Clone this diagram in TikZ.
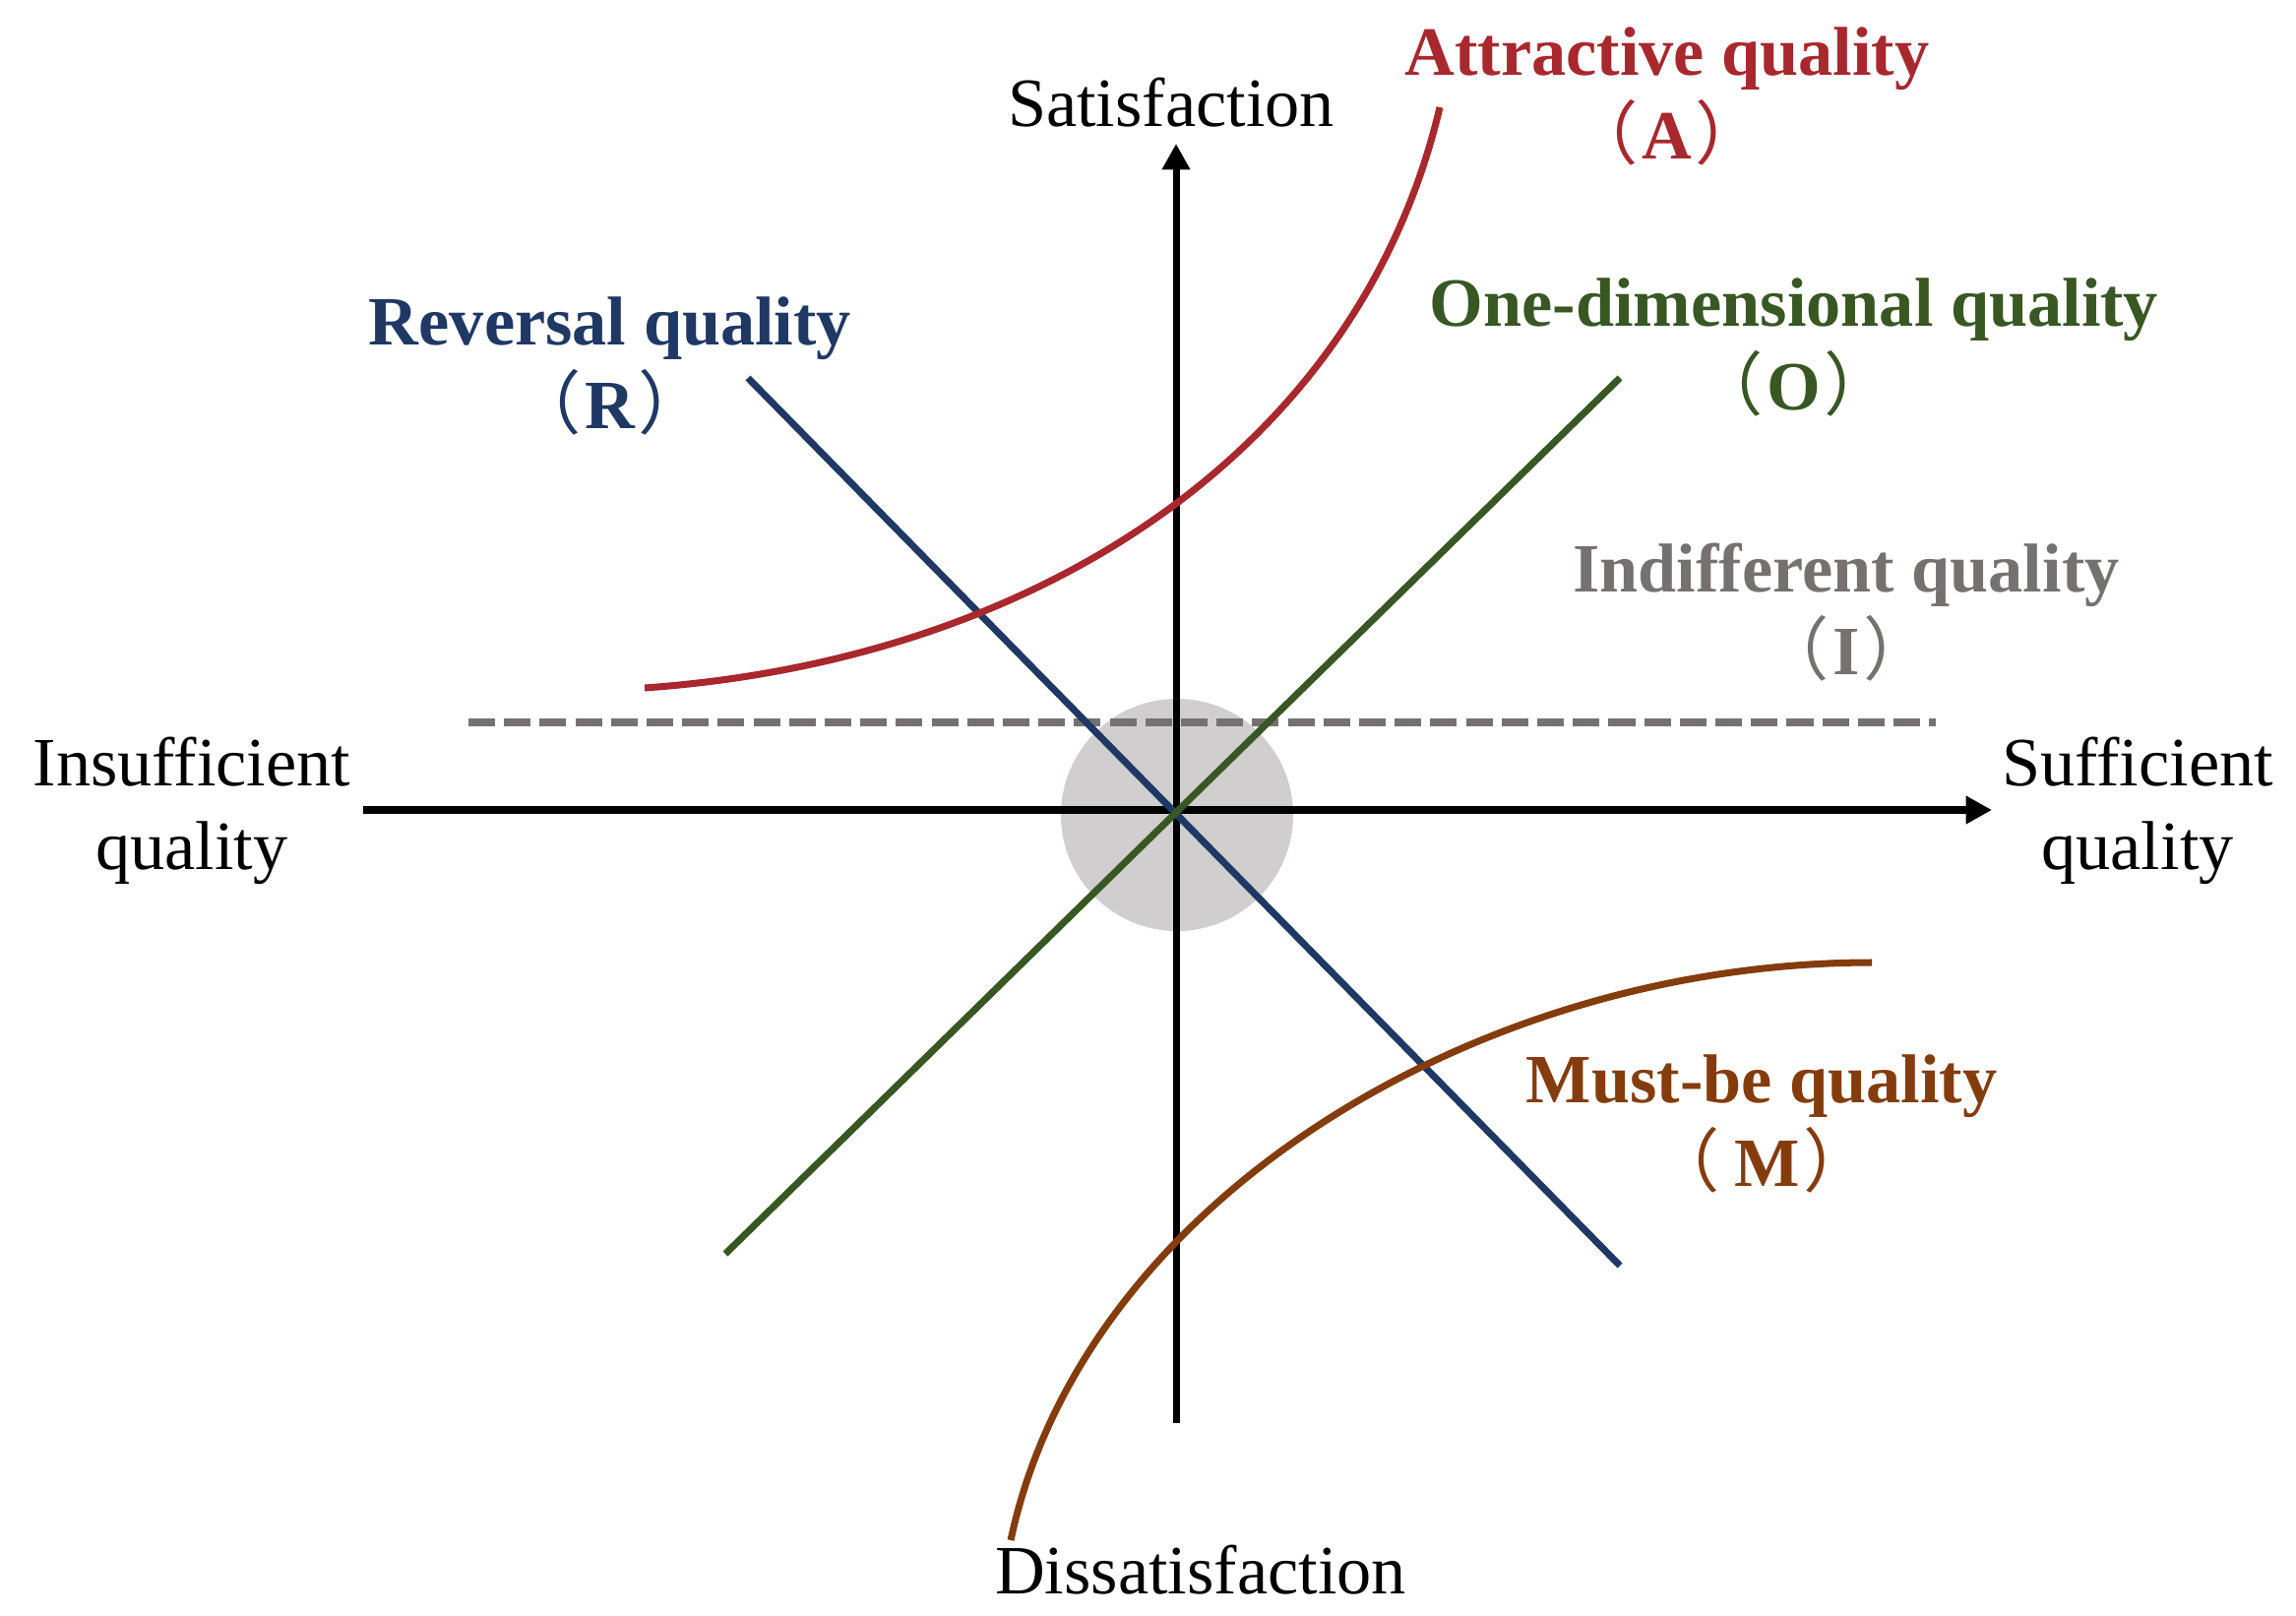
\documentclass[tikz,border=0pt]{standalone}
\usepackage{fontspec}
\setmainfont{Liberation Serif}
\newfontfamily\cjk{Noto Sans CJK SC}
\usetikzlibrary{arrows.meta}
\definecolor{attrred}{RGB}{168,40,45}
\definecolor{revblue}{RGB}{31,56,100}
\definecolor{onegreen}{RGB}{56,87,35}
\definecolor{indgray}{RGB}{118,113,113}
\definecolor{mustbrown}{RGB}{132,60,12}
\definecolor{zonegray}{RGB}{208,206,206}
\newcommand{\lpar}{{\cjk\mdseries （}\hspace{0.05em}}
\newcommand{\rpar}{\hspace{0.05em}{\cjk\mdseries ）}}
\begin{document}
\begin{tikzpicture}

    \tikzset{
      axisline/.style={
        line width=2pt,
        -{Triangle[length=7.5pt,width=7.7pt]},
      },
      kanoline/.style={
        line width=2pt,
      },
      axistext/.style={
        font=\fontsize{20}{24}\selectfont,
        align=center,
        inner sep=0pt,
      },
      kanotext/.style={
        font=\fontsize{20}{24}\selectfont\bfseries,
        align=center,
        inner sep=0pt,
      },
    }
    \useasboundingbox (0,0) rectangle (23.33,16.41);
    % neutral zone round the origin
    \node (zone) [circle, fill=zonegray, inner sep=0pt, minimum size=2.36cm] at (11.96,8.13) {};
    % indifferent quality
    \coordinate (I1) at (4.76,9.07);
    \coordinate (I2) at (19.67,9.07);
    \draw[color={indgray}, line width=2.4pt, dash pattern=on 7.7pt off 2.6pt] (I1)--(I2);
    % axes
    \coordinate (O) at (11.95,8.18);
    \coordinate (xl) at (3.69,8.18);
    \coordinate (xr) at (20.24,8.18);
    \coordinate (yb) at (11.95,1.95);
    \coordinate (yt) at (11.95,14.95);
    \draw[axisline] (xl)--(xr);
    \draw[axisline] (yb)--(yt);
    % quality lines
    \coordinate (R1) at (7.60,12.57);
    \coordinate (R2) at (16.46,3.55);
    \coordinate (O1) at (7.37,3.67);
    \coordinate (O2) at (16.46,12.57);
    \draw[kanoline, color={revblue}] (R1)--(R2);
    \draw[kanoline, color={onegreen}] (O1)--(O2);
    \coordinate (A1) at (6.55,9.42);
    \coordinate (A2) at (14.63,15.32);
    \draw[kanoline, color={attrred}] (A1) .. controls (10.5,9.7) and (13.8,11.8) .. (A2);
    \coordinate (M1) at (10.27,0.76);
    \coordinate (M2) at (19.02,6.63);
    \draw[kanoline, color={mustbrown}] (M1) .. controls (11.0,4.2) and (15.0,6.63) .. (M2);
    % axis texts
    \node (sat) [axistext] at (11.90,15.37) {Satisfaction};
    \node (dis) [axistext] at (12.20,0.46) {Dissatisfaction};
    \node (insuf) [axistext] at (1.95,8.17) {Insufficient\\quality};
    \node (suf) [axistext] at (21.72,8.17) {Sufficient\\quality};
    % kano categories
    \node (attr) [kanotext, text=attrred] at (16.94,15.43) {Attractive quality\\\lpar A\rpar};
    \node (rev) [kanotext, text=revblue] at (6.20,12.69) {Reversal quality\\\lpar R\rpar};
    \node (one) [kanotext, text=onegreen] at (18.23,12.88) {One-dimensional quality\\\lpar O\rpar};
    \node (ind) [kanotext, text=indgray] at (18.76,10.19) {Indifferent quality\\\lpar I\rpar};
    \node (must) [kanotext, text=mustbrown] at (17.90,4.99) {Must-be quality\\\lpar\,M\rpar};

\end{tikzpicture}
\end{document}
